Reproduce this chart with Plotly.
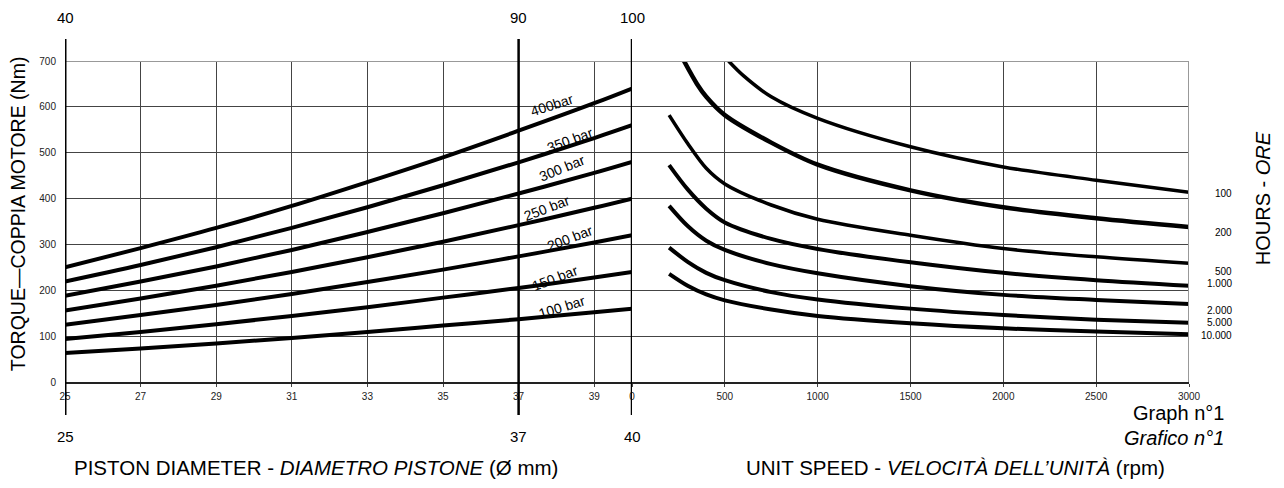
import plotly.graph_objects as go

# ---------------- data ----------------
# Left panel: torque (Nm) vs piston diameter (mm) for each pressure
diameter_mm = [25, 27, 29, 31, 33, 35, 37, 39, 40]
pressure_labels = ["400bar", "350 bar", "300 bar", "250 bar", "200 bar", "150 bar", "100 bar"]
torque_400bar = [250, 292, 336, 384, 436, 490, 548, 608, 640]
torque_350bar = [219, 255, 294, 336, 381, 429, 479, 532, 560]
torque_300bar = [188, 219, 252, 288, 327, 368, 411, 456, 480]
torque_250bar = [156, 182, 210, 240, 272, 306, 342, 380, 400]
torque_200bar = [125, 146, 168, 192, 218, 245, 274, 304, 320]
torque_150bar = [94, 109, 126, 144, 163, 184, 205, 228, 240]
torque_100bar = [63, 73, 84, 96, 109, 123, 137, 152, 160]

# Right panel: torque (Nm) vs unit speed (rpm) for each life in hours
rpm_100h = [520, 600, 750, 1000, 1500, 2000, 2500, 3000]
torque_100h = [700, 668, 622, 575, 513, 469, 440, 414]
rpm_200h = [280, 350, 400, 500, 750, 1000, 1500, 2000, 2500, 3000]
torque_200h = [700, 650, 622, 582, 522, 474, 418, 381, 357, 338]
rpm_long = [200, 300, 400, 500, 750, 1000, 1500, 2000, 2500, 3000]
torque_500h = [582, 520, 466, 432, 386, 355, 320, 291, 273, 259]
torque_1000h = [473, 420, 378, 348, 312, 290, 261, 238, 222, 210]
torque_2000h = [384, 340, 308, 288, 257, 237, 209, 190, 179, 170]
torque_5000h = [293, 262, 238, 222, 196, 180, 160, 146, 136, 129]
torque_10000h = [236, 210, 191, 178, 158, 144, 128, 117, 110, 104]
hours_labels = ["100", "200", "500", "1.000", "2.000", "5.000", "10.000"]
hours_label_torque = [410, 327, 242, 214, 155, 129, 102]

# Axis ticks
diameter_ticks = [25, 27, 29, 31, 33, 35, 37, 39]
rpm_ticks = [0, 500, 1000, 1500, 2000, 2500, 3000]
torque_ticks = [0, 100, 200, 300, 400, 500, 600, 700]

# Secondary scale marks (top / bottom of the thick vertical lines)
scale_positions = [25, 37, 40]
scale_top_labels = ["40", "90", "100"]
scale_bottom_labels = ["25", "37", "40"]

# ---------------- figure ----------------
FONT = "Liberation Sans, Arial, sans-serif"
fig = go.Figure()

left_series = [torque_400bar, torque_350bar, torque_300bar, torque_250bar,
               torque_200bar, torque_150bar, torque_100bar]
for name, vals in zip(pressure_labels, left_series):
    fig.add_trace(go.Scatter(x=diameter_mm, y=vals, mode="lines", name=name,
                             line=dict(color="black", width=4, shape="spline"),
                             xaxis="x", yaxis="y", hoverinfo="skip"))

right_series = [(rpm_100h, torque_100h, 3.5), (rpm_200h, torque_200h, 4.5),
                (rpm_long, torque_500h, 3.5), (rpm_long, torque_1000h, 4),
                (rpm_long, torque_2000h, 4), (rpm_long, torque_5000h, 4),
                (rpm_long, torque_10000h, 4)]
for lab, (xs, ys, w) in zip(hours_labels, right_series):
    fig.add_trace(go.Scatter(x=xs, y=ys, mode="lines", name=lab,
                             line=dict(color="black", width=w, shape="spline", smoothing=0.9),
                             xaxis="x2", yaxis="y", hoverinfo="skip"))

split = (632 - 65) / 1124

tickfont = dict(family=FONT, size=10, color="#222")
fig.update_layout(
    width=1276, height=480,
    margin=dict(l=57, r=95, t=53, b=106),
    paper_bgcolor="white", plot_bgcolor="white",
    showlegend=False,
    xaxis=dict(domain=[0, split], range=[25, 40], tickvals=diameter_ticks,
               showgrid=True, gridcolor="#444", gridwidth=1, zeroline=False,
               showline=True, linecolor="#222", linewidth=1.5,
               ticks="outside", ticklen=3, tickcolor="#444",
               ticklabelstandoff=1, tickfont=tickfont, anchor="y"),
    xaxis2=dict(domain=[split, 1], range=[0, 3000], tickvals=rpm_ticks,
                showgrid=True, gridcolor="#444", gridwidth=1, zeroline=False,
                showline=True, linecolor="#222", linewidth=1.5,
                ticks="outside", ticklen=3, tickcolor="#444",
                ticklabelstandoff=1, tickfont=tickfont, anchor="y"),
    yaxis=dict(range=[0, 700], tickvals=torque_ticks, showgrid=True,
               gridcolor="#444", gridwidth=1, zeroline=False, showline=False,
               ticks="", ticklabelstandoff=8, tickfont=tickfont),
)

shapes = []
# top border and right border (lighter gray)
shapes.append(dict(type="line", xref="paper", yref="y", x0=0, x1=1, y0=700, y1=700,
                   line=dict(color="#999", width=2)))
shapes.append(dict(type="line", xref="x2", yref="y", x0=3000, x1=3000, y0=0, y1=700,
                   line=dict(color="#999", width=2)))
# thick vertical scale lines extending beyond the plot
for xv, w in zip(scale_positions, [3, 2.5, 2.5]):
    shapes.append(dict(type="line", xref="x", yref="paper", x0=xv, x1=xv,
                       y0=-0.103, y1=1.0685, line=dict(color="black", width=w)))
fig.update_layout(shapes=shapes)

ann = []
for xv, t in zip(scale_positions, scale_top_labels):
    ann.append(dict(x=xv, y=1.134, xref="x", yref="paper", text=t, showarrow=False,
                    xanchor="center", yanchor="middle",
                    font=dict(family=FONT, size=15, color="black")))
for xv, t in zip(scale_positions, scale_bottom_labels):
    ann.append(dict(x=xv, y=-0.171, xref="x", yref="paper", text=t, showarrow=False,
                    xanchor="center", yanchor="middle",
                    font=dict(family=FONT, size=15, color="black")))

# pressure labels on left curves
label_pos = [(37.88, 604, -18), (38.36, 528, -20), (38.15, 467, -22), (37.75, 379, -21),
             (38.36, 314, -21), (37.96, 227, -21), (38.15, 164, -17)]
for t, (xv, yv, ang) in zip(pressure_labels, label_pos):
    ann.append(dict(x=xv, y=yv, xref="x", yref="y", text=t, showarrow=False,
                    xanchor="center", yanchor="middle", textangle=ang,
                    font=dict(family=FONT, size=14, color="black")))

# hours labels on the right
for t, yv in zip(hours_labels, hours_label_torque):
    ann.append(dict(x=1.040, y=yv, xref="paper", yref="y", text=t, showarrow=False,
                    xanchor="right", yanchor="middle",
                    font=dict(family=FONT, size=10, color="black")))

ann.append(dict(x=1.066, y=0.573, xref="paper", yref="paper", text="HOURS - <i>ORE</i>",
                showarrow=False, textangle=-90, xanchor="center", yanchor="middle",
                font=dict(family=FONT, size=20, color="black")))
ann.append(dict(x=-0.0418, y=0.523, xref="paper", yref="paper",
                text="TORQUE\u2014COPPIA MOTORE (Nm)", showarrow=False, textangle=-90,
                xanchor="center", yanchor="middle",
                font=dict(family=FONT, size=19.5, color="black")))
ann.append(dict(x=1.033, y=-0.096, xref="paper", yref="paper", text="Graph n°1",
                showarrow=False, xanchor="right", yanchor="middle",
                font=dict(family=FONT, size=20, color="black")))
ann.append(dict(x=1.033, y=-0.176, xref="paper", yref="paper", text="<i>Grafico n°1</i>",
                showarrow=False, xanchor="right", yanchor="middle",
                font=dict(family=FONT, size=20, color="black")))
ann.append(dict(x=0.2233, y=-0.265, xref="paper", yref="paper",
                text="PISTON DIAMETER - <i>DIAMETRO PISTONE</i> (Ø mm)",
                showarrow=False, xanchor="center", yanchor="middle",
                font=dict(family=FONT, size=20.5, color="black")))
ann.append(dict(x=0.7927, y=-0.265, xref="paper", yref="paper",
                text="UNIT SPEED - <i>VELOCITÀ DELL\u2019UNITÀ</i> (rpm)",
                showarrow=False, xanchor="center", yanchor="middle",
                font=dict(family=FONT, size=20.5, color="black")))
fig.update_layout(annotations=ann)

fig.write_html("out.html")
